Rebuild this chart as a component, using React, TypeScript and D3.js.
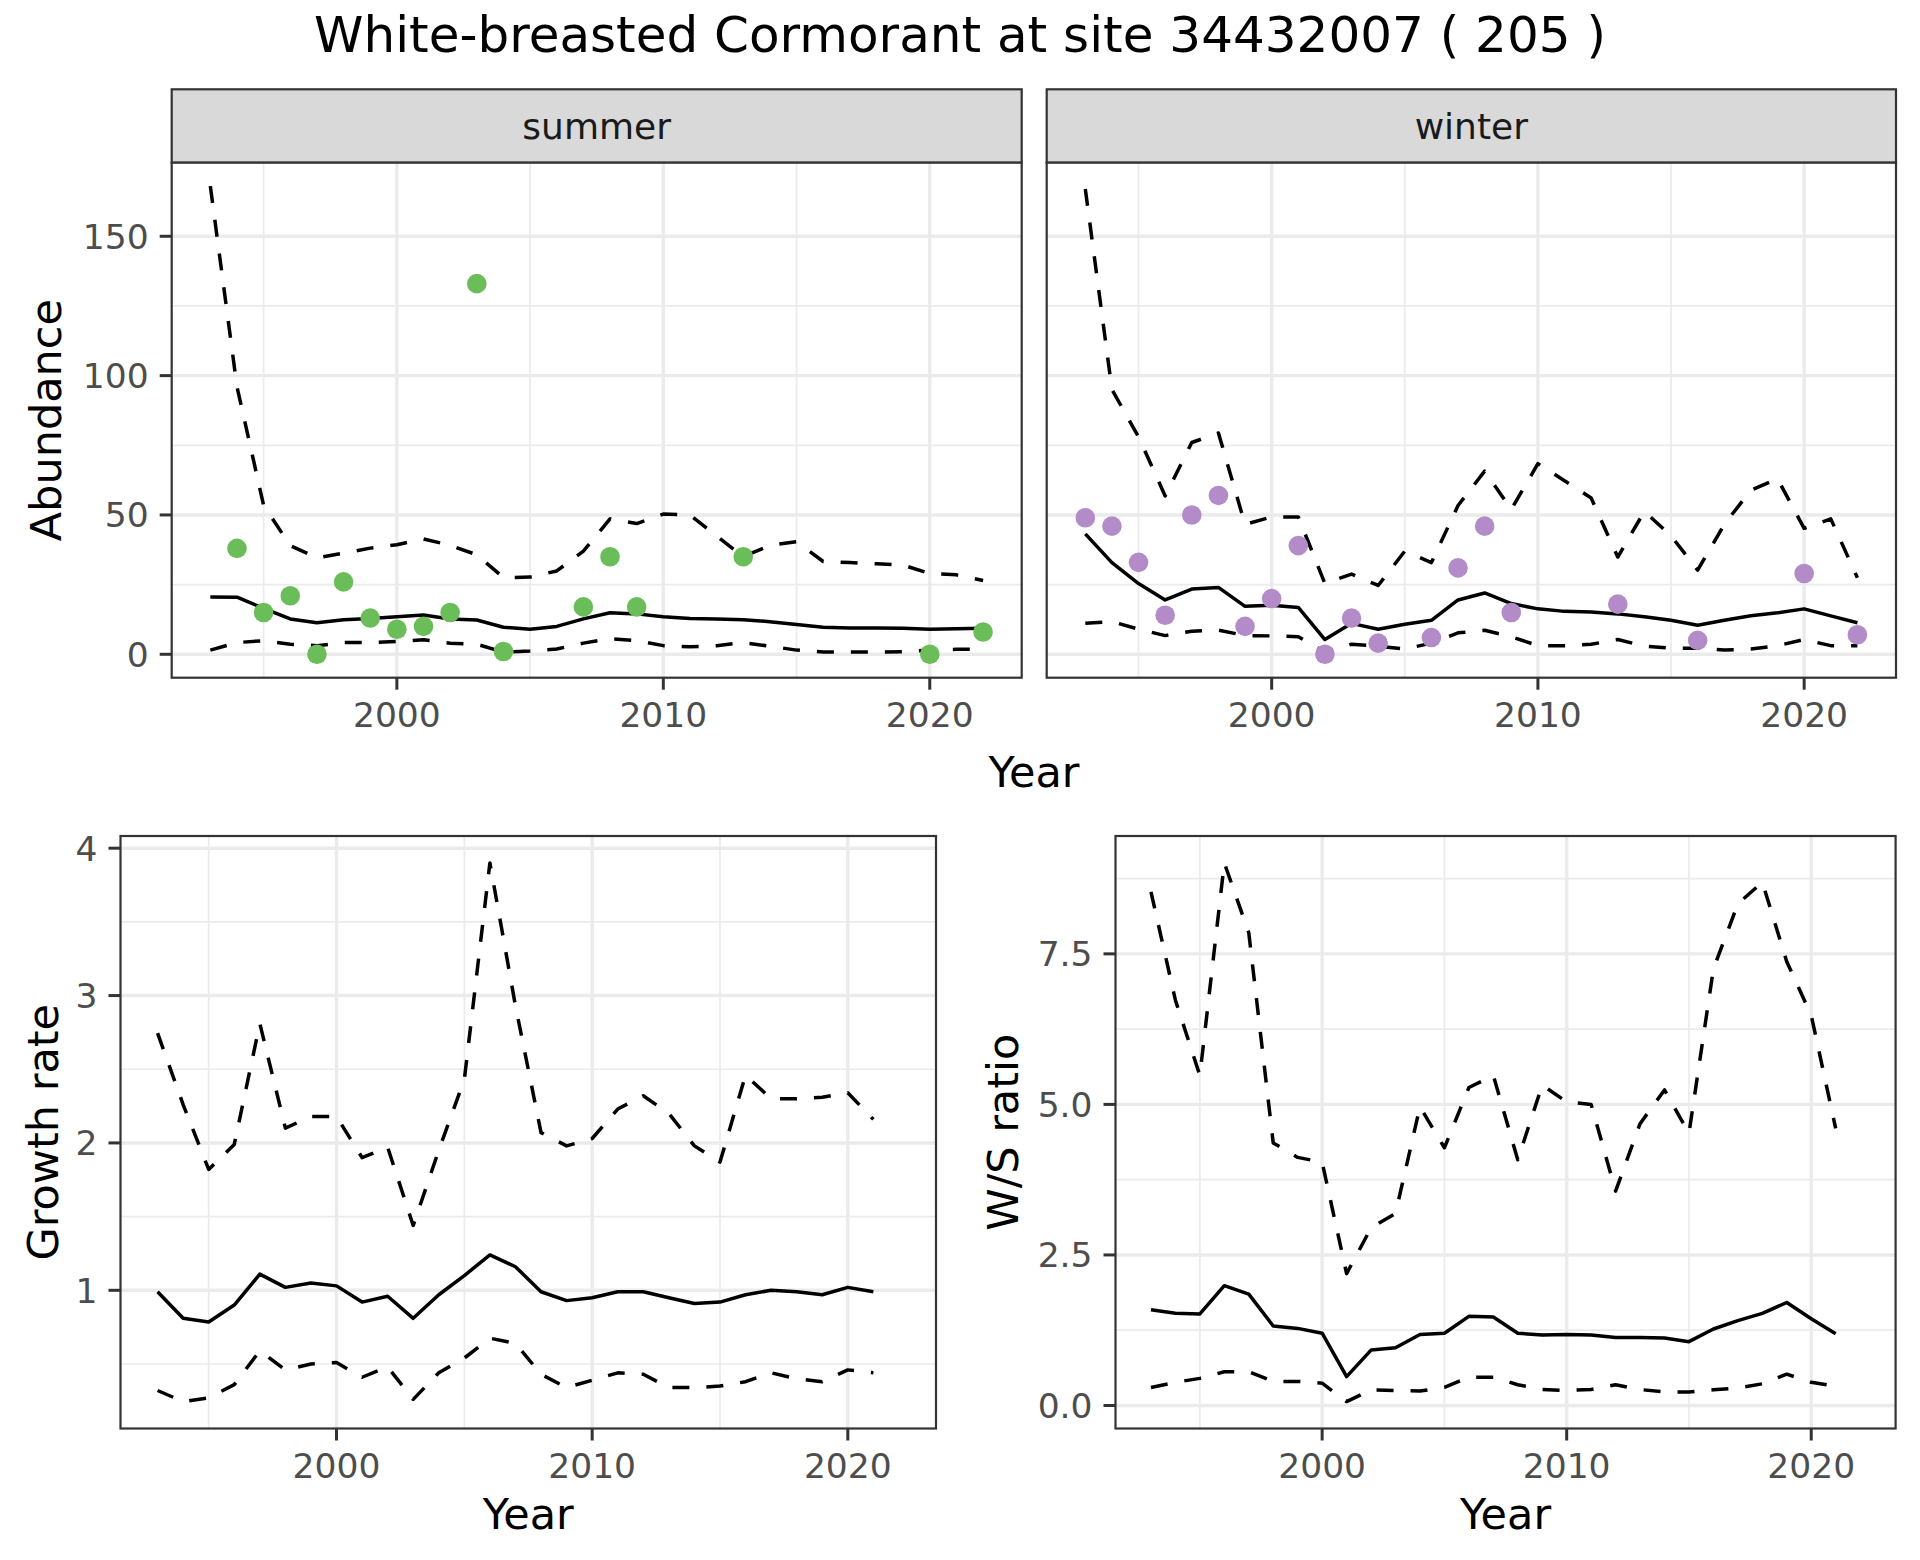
import React from 'react';
import * as d3 from 'd3';

// ---------- data ----------
const abundYears = [1993, 1994, 1995, 1996, 1997, 1998, 1999, 2000, 2001, 2002, 2003, 2004, 2005, 2006, 2007, 2008, 2009, 2010, 2011, 2012, 2013, 2014, 2015, 2016, 2017, 2018, 2019, 2020, 2021, 2022];

const summerMean = [20.6, 20.5, 16.5, 12.7, 11.3, 12.4, 12.8, 13.5, 14.1, 12.7, 12.3, 9.7, 9.0, 10.0, 12.7, 14.9, 14.5, 13.5, 12.8, 12.7, 12.4, 11.7, 10.7, 9.7, 9.4, 9.4, 9.3, 9.0, 9.2, 9.3];
const summerUpper = [168, 96, 53.4, 39, 34.6, 36.3, 38.1, 39.3, 41.4, 39.1, 35.7, 27.5, 27.7, 29.9, 37.0, 48.6, 46.9, 50.3, 50.0, 42.5, 35.0, 39.1, 40.4, 33.3, 32.9, 32.5, 32.0, 29.0, 28.5, 26.5];
const summerLower = [1.5, 4.2, 4.9, 3.6, 3.1, 4.2, 4.2, 4.6, 5.2, 4.0, 3.6, 0.8, 1.2, 1.9, 4.0, 5.6, 4.9, 3.1, 2.7, 3.1, 4.2, 2.9, 1.5, 0.8, 0.8, 0.8, 0.9, 1.5, 1.8, 1.8];
const summerPointYears = [1994, 1995, 1996, 1997, 1998, 1999, 2000, 2001, 2002, 2003, 2004, 2007, 2008, 2009, 2013, 2020, 2022];
const summerPointValues = [38, 15, 21, 0, 26, 13, 9, 10, 15, 133, 1, 17, 35, 17, 35, 0, 8];

const winterMean = [43.2, 32.9, 25.4, 19.5, 23.4, 24.0, 17.2, 17.6, 16.8, 5.3, 11.1, 9.0, 10.8, 12.2, 19.5, 22.0, 18.2, 16.3, 15.4, 15.2, 14.5, 13.5, 12.2, 10.4, 12.2, 13.8, 14.9, 16.3, 13.8, 11.3];
const winterUpper = [167, 95, 78, 56.8, 76, 79.4, 46.6, 49.3, 49.3, 25.4, 28.8, 24.7, 37, 32.9, 53.4, 65.7, 52, 68.4, 62.3, 56.1, 34.9, 51.3, 42.5, 30.2, 46.6, 58.9, 63.0, 45.2, 48.6, 27.5];
const winterLower = [11.1, 11.7, 9.0, 6.7, 8.3, 8.7, 6.7, 6.6, 6.3, 0.8, 3.6, 2.9, 1.9, 4.0, 7.7, 8.6, 6.3, 3.1, 3.1, 3.6, 5.3, 2.9, 2.2, 2.2, 1.5, 1.9, 3.1, 5.3, 3.1, 3.1];
const winterPointYears = [1993, 1994, 1995, 1996, 1997, 1998, 1999, 2000, 2001, 2002, 2003, 2004, 2006, 2007, 2008, 2009, 2013, 2016, 2020, 2022];
const winterPointValues = [49, 46, 33, 14, 50, 57, 10, 20, 39, 0, 13, 4, 6, 31, 46, 15, 18, 5, 29, 7];

const rateYears = [1993, 1994, 1995, 1996, 1997, 1998, 1999, 2000, 2001, 2002, 2003, 2004, 2005, 2006, 2007, 2008, 2009, 2010, 2011, 2012, 2013, 2014, 2015, 2016, 2017, 2018, 2019, 2020, 2021];

const growthMean = [0.99, 0.81, 0.785, 0.90, 1.11, 1.02, 1.05, 1.03, 0.92, 0.96, 0.81, 0.97, 1.10, 1.24, 1.16, 0.99, 0.93, 0.95, 0.99, 0.99, 0.95, 0.91, 0.92, 0.97, 1.00, 0.99, 0.97, 1.02, 0.99];
const growthUpper = [2.745, 2.26, 1.82, 1.99, 2.81, 2.10, 2.18, 2.18, 1.90, 1.97, 1.44, 1.95, 2.43, 3.90, 2.93, 2.07, 1.98, 2.03, 2.23, 2.32, 2.20, 1.98, 1.87, 2.46, 2.30, 2.30, 2.31, 2.34, 2.16];
const growthLower = [0.32, 0.245, 0.27, 0.36, 0.59, 0.46, 0.50, 0.51, 0.41, 0.48, 0.26, 0.44, 0.54, 0.675, 0.64, 0.43, 0.34, 0.39, 0.44, 0.43, 0.34, 0.34, 0.35, 0.38, 0.44, 0.40, 0.38, 0.46, 0.44];

const ratioMean = [1.59, 1.53, 1.52, 1.99, 1.85, 1.32, 1.28, 1.20, 0.48, 0.92, 0.96, 1.18, 1.20, 1.48, 1.47, 1.20, 1.17, 1.18, 1.17, 1.13, 1.13, 1.12, 1.06, 1.27, 1.41, 1.53, 1.71, 1.44, 1.19];
const ratioUpper = [8.53, 6.73, 5.48, 9.01, 7.85, 4.36, 4.12, 4.04, 2.19, 2.95, 3.19, 4.96, 4.28, 5.28, 5.48, 4.08, 5.32, 5.04, 5.0, 3.56, 4.68, 5.24, 4.52, 7.25, 8.33, 8.69, 7.37, 6.48, 4.60];
const ratioLower = [0.30, 0.385, 0.45, 0.56, 0.56, 0.40, 0.40, 0.37, 0.065, 0.26, 0.25, 0.24, 0.30, 0.47, 0.47, 0.345, 0.265, 0.25, 0.265, 0.345, 0.265, 0.225, 0.225, 0.26, 0.29, 0.36, 0.52, 0.385, 0.32];

const yearLimits = [1993, 2022];
const xMajor = [2000, 2010, 2020];
const xMinor = [1995, 2005, 2015];
const abundMajor = [0, 50, 100, 150];
const abundMinor = [25, 75, 125];
const growthMajor = [1, 2, 3, 4];
const growthMinor = [0.5, 1.5, 2.5, 3.5];
const ratioMajor = [0, 2.5, 5, 7.5];
const ratioMinor = [1.25, 3.75, 6.25, 8.75];
const ratioLabels = ['0.0', '2.5', '5.0', '7.5'];

const TITLE = 'White-breasted Cormorant at site 34432007 ( 205 )';
const FONT = 'DejaVu Sans';
const GREEN = '#6ABD59';
const PURPLE = '#B28BC8';
const TICK_FONT = 34.5;
const LINE_W = 3.5;

function expand(lo: number, hi: number): [number, number] {
  const r = hi - lo;
  return [lo - r * 0.05, hi + r * 0.05];
}

type Series = { years: number[]; values: number[]; dashed: boolean };
type PanelProps = {
  x0: number; x1: number; y0: number; y1: number;
  yDomain: [number, number];
  yMajor: number[]; yMinor: number[]; yLabels?: string[];
  showY: boolean;
  series: Series[];
  points?: { years: number[]; values: number[]; color: string };
};

const xDomain = expand(yearLimits[0], yearLimits[1]);

function Panel(p: PanelProps) {
  const x = d3.scaleLinear().domain(xDomain).range([p.x0, p.x1]);
  const y = d3.scaleLinear().domain(p.yDomain).range([p.y1, p.y0]);
  const gridColor = '#EBEBEB';
  const tickColor = '#333333';
  const labelColor = '#4D4D4D';
  return (
    <g>
      <rect x={p.x0} y={p.y0} width={p.x1 - p.x0} height={p.y1 - p.y0} fill="white" />
      {p.yMinor.map((v) => (
        <line key={'ym' + v} x1={p.x0} x2={p.x1} y1={y(v)} y2={y(v)} stroke={gridColor} strokeWidth={1.7} />
      ))}
      {xMinor.map((v) => (
        <line key={'xm' + v} x1={x(v)} x2={x(v)} y1={p.y0} y2={p.y1} stroke={gridColor} strokeWidth={1.7} />
      ))}
      {p.yMajor.map((v) => (
        <line key={'yM' + v} x1={p.x0} x2={p.x1} y1={y(v)} y2={y(v)} stroke={gridColor} strokeWidth={3.4} />
      ))}
      {xMajor.map((v) => (
        <line key={'xM' + v} x1={x(v)} x2={x(v)} y1={p.y0} y2={p.y1} stroke={gridColor} strokeWidth={3.4} />
      ))}
      {p.series.map((s, i) => {
        const gen = d3.line<number>().x((_, j) => x(s.years[j])).y((d) => y(d));
        return (
          <path key={'s' + i} d={gen(s.values) || ''} fill="none" stroke="black" strokeWidth={LINE_W}
            strokeDasharray={s.dashed ? '17 17' : undefined} strokeLinejoin="round" />
        );
      })}
      {p.points && p.points.values.map((v, i) => (
        <circle key={'p' + i} cx={x(p.points!.years[i])} cy={y(v)} r={9.8} fill={p.points!.color} />
      ))}
      <rect x={p.x0} y={p.y0} width={p.x1 - p.x0} height={p.y1 - p.y0} fill="none" stroke="#333333" strokeWidth={2.2} />
      {xMajor.map((v) => (
        <g key={'xt' + v}>
          <line x1={x(v)} x2={x(v)} y1={p.y1} y2={p.y1 + 12} stroke={tickColor} strokeWidth={3} />
          <text x={x(v)} y={p.y1 + 49} textAnchor="middle" fontFamily={FONT} fontSize={TICK_FONT} fill={labelColor}>{v}</text>
        </g>
      ))}
      {p.showY && p.yMajor.map((v, i) => (
        <g key={'yt' + v}>
          <line x1={p.x0 - 12} x2={p.x0} y1={y(v)} y2={y(v)} stroke={tickColor} strokeWidth={3} />
          <text x={p.x0 - 23} y={y(v)} dy="0.36em" textAnchor="end" fontFamily={FONT} fontSize={TICK_FONT} fill={labelColor}>
            {p.yLabels ? p.yLabels[i] : String(v)}
          </text>
        </g>
      ))}
    </g>
  );
}

function Strip({ x0, x1, y0, y1, label }: { x0: number; x1: number; y0: number; y1: number; label: string }) {
  return (
    <g>
      <rect x={x0} y={y0} width={x1 - x0} height={y1 - y0} fill="#D9D9D9" stroke="#333333" strokeWidth={2.2} />
      <text x={(x0 + x1) / 2} y={138.5} textAnchor="middle" fontFamily={FONT} fontSize={36} fill="#1A1A1A">{label}</text>
    </g>
  );
}

export default function App() {
  const abundAll = [...summerUpper, ...summerLower, ...summerPointValues, ...winterUpper, ...winterLower, ...winterPointValues];
  const abundDomain = expand(d3.min(abundAll)!, d3.max(abundAll)!);
  const growthAll = [...growthUpper, ...growthLower, ...growthMean];
  const growthDomain = expand(d3.min(growthAll)!, d3.max(growthAll)!);
  const ratioAll = [...ratioUpper, ...ratioLower, ...ratioMean];
  const ratioDomain = expand(d3.min(ratioAll)!, d3.max(ratioAll)!);

  const top = { y0: 162.7, y1: 677.7 };
  const bot = { y0: 836, y1: 1428.5 };

  return (
    <div style={{ position: 'absolute', left: 0, top: 0 }}>
      <svg width={1920} height={1560} viewBox="0 0 1920 1560" style={{ display: 'block', background: 'white' }}>
        <rect x={0} y={0} width={1920} height={1560} fill="white" />
        <text x={960} y={51.5} textAnchor="middle" fontFamily={FONT} fontSize={50} fill="black">{TITLE}</text>

        <Strip x0={171.7} x1={1021.7} y0={89.3} y1={162.7} label="summer" />
        <Strip x0={1046.7} x1={1896} y0={89.3} y1={162.7} label="winter" />

        <Panel x0={171.7} x1={1021.7} y0={top.y0} y1={top.y1} yDomain={abundDomain}
          yMajor={abundMajor} yMinor={abundMinor} showY={true}
          series={[
            { years: abundYears, values: summerUpper, dashed: true },
            { years: abundYears, values: summerMean, dashed: false },
            { years: abundYears, values: summerLower, dashed: true },
          ]}
          points={{ years: summerPointYears, values: summerPointValues, color: GREEN }} />
        <Panel x0={1046.7} x1={1896} y0={top.y0} y1={top.y1} yDomain={abundDomain}
          yMajor={abundMajor} yMinor={abundMinor} showY={false}
          series={[
            { years: abundYears, values: winterUpper, dashed: true },
            { years: abundYears, values: winterMean, dashed: false },
            { years: abundYears, values: winterLower, dashed: true },
          ]}
          points={{ years: winterPointYears, values: winterPointValues, color: PURPLE }} />

        <text x={1034} y={787} textAnchor="middle" fontFamily={FONT} fontSize={43} fill="black">Year</text>
        <text transform={`translate(61, ${(top.y0 + top.y1) / 2}) rotate(-90)`} textAnchor="middle" fontFamily={FONT} fontSize={43} fill="black">Abundance</text>

        <Panel x0={120.5} x1={936} y0={bot.y0} y1={bot.y1} yDomain={growthDomain}
          yMajor={growthMajor} yMinor={growthMinor} showY={true}
          series={[
            { years: rateYears, values: growthUpper, dashed: true },
            { years: rateYears, values: growthMean, dashed: false },
            { years: rateYears, values: growthLower, dashed: true },
          ]} />
        <text x={(120.5 + 936) / 2} y={1529} textAnchor="middle" fontFamily={FONT} fontSize={43} fill="black">Year</text>
        <text transform={`translate(58, ${(bot.y0 + bot.y1) / 2}) rotate(-90)`} textAnchor="middle" fontFamily={FONT} fontSize={43} fill="black">Growth rate</text>

        <Panel x0={1115.5} x1={1895.6} y0={bot.y0} y1={bot.y1} yDomain={ratioDomain}
          yMajor={ratioMajor} yMinor={ratioMinor} yLabels={ratioLabels} showY={true}
          series={[
            { years: rateYears, values: ratioUpper, dashed: true },
            { years: rateYears, values: ratioMean, dashed: false },
            { years: rateYears, values: ratioLower, dashed: true },
          ]} />
        <text x={(1115.5 + 1895.6) / 2} y={1529} textAnchor="middle" fontFamily={FONT} fontSize={43} fill="black">Year</text>
        <text transform={`translate(1018, ${(bot.y0 + bot.y1) / 2}) rotate(-90)`} textAnchor="middle" fontFamily={FONT} fontSize={43} fill="black">W/S ratio</text>
      </svg>
    </div>
  );
}
